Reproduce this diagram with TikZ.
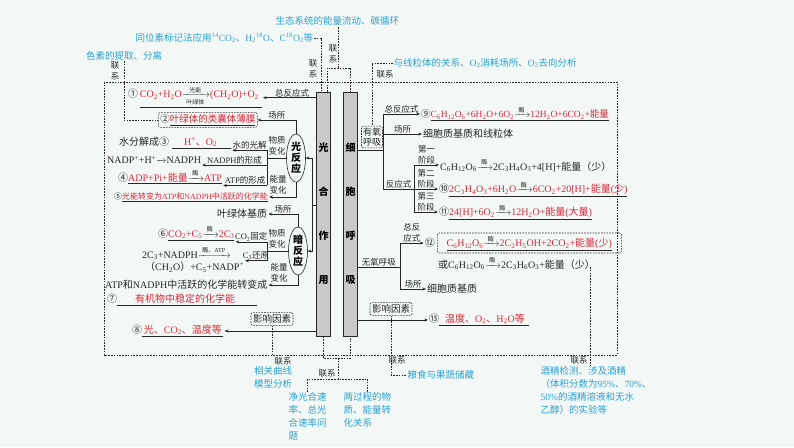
\documentclass[tikz,border=0pt]{standalone}
\usepackage{amsmath}
\usepackage{fontspec}
\setmainfont{Liberation Serif}
\newfontfamily\zhfont{Noto Sans CJK SC}
\usetikzlibrary{positioning,arrows.meta,shapes.geometric}
\definecolor{ink}{HTML}{262626}
\definecolor{ansred}{HTML}{D42A3A}
\definecolor{noteblue}{HTML}{2AA0CF}
\definecolor{colgray}{HTML}{C9C9C9}
\definecolor{paper}{HTML}{F3F8F7}
% switch to the CJK font for Chinese characters, back to the serif for the rest
\newXeTeXintercharclass\cjkcls
\newcommand\cjkrange[2]{%
  \count255=#1\relax
  \loop
    \XeTeXcharclass\count255=\cjkcls
  \ifnum\count255<#2\relax
    \advance\count255 by 1\relax
  \repeat}
\cjkrange{"2460}{"24FF}
\cjkrange{"3000}{"303F}
\cjkrange{"4E00}{"9FFF}
\cjkrange{"FF00}{"FFEF}
\XeTeXinterchartoks 0 \cjkcls = {\zhfont}
\XeTeXinterchartoks 4095 \cjkcls = {\zhfont}
\XeTeXinterchartoks \cjkcls 0 = {\rmfamily}
\XeTeXinterchartoks 4095 0 = {\rmfamily}
\XeTeXinterchartokenstate=1
\newcommand\dn[1]{\textsubscript{#1}}
\newcommand\tp[1]{\textsuperscript{#1}}
\newcommand\red[1]{\textcolor{ansred}{#1}}
\newcommand\lbl[1]{\text{\fontsize{6}{6}\selectfont\hspace{2pt}#1\hspace{2pt}}}
\newcommand\rxn[1]{\textcolor{ink}{$\xrightarrow{\lbl{#1}}$}}
\newcommand\rxnb[2]{\textcolor{ink}{$\xrightarrow[\lbl{#1}]{\lbl{#2}}$}}
\tikzset{
  txt/.style={inner sep=1pt, text=ink, font=\fontsize{10}{12}\selectfont},
  lab/.style={inner sep=0.5pt, text=ink, align=center,
              font=\fontsize{8.5}{10.5}\selectfont},
  note/.style={inner sep=0.5pt, text=noteblue, align=left,
               font=\fontsize{9.5}{12.8}\selectfont},
  tie/.style={inner sep=0.5pt, text=ink, align=center,
              font=\fontsize{8.5}{10.5}\selectfont},
  col/.style={draw=ink, fill=colgray, line width=0.6pt, minimum width=14pt,
              minimum height=244pt, inner sep=0pt, align=center,
              font=\bfseries\fontsize{10}{44}\selectfont},
  oval/.style={ellipse, draw=ink, fill=paper, line width=0.6pt,
               minimum width=19pt, minimum height=48pt, inner sep=0pt,
               align=center, font=\bfseries\fontsize{10}{11}\selectfont},
  dbox/.style={draw=ink, dash pattern=on 1.6pt off 1.2pt, rounded corners=2pt,
               line width=0.6pt, inner sep=2pt},
  link/.style={draw=ink, dash pattern=on 1.6pt off 1.2pt, line width=0.6pt},
  wire/.style={draw=ink, line width=0.6pt},
  flow/.style={wire, -{Stealth[length=3.6pt, width=3pt]}},
}

\begin{document}
\begin{tikzpicture}[x=1pt, y=-1pt]
  \fill[paper] (0,0) rectangle (794,447);
  \useasboundingbox (0,0) rectangle (794,447);

  % ---------------------------------------------------------- frame and columns
  \coordinate (fs) at (104,355);
  \draw[link] (104,82) rectangle (617,355);
  \node[col] (photo) at (323.5,214) {光\\合\\作\\用};
  \node[col] (resp) at (350.5,214) {细\\胞\\呼\\吸};

  % ---------------------------------------------------------- photosynthesis
  \node[txt, anchor=west] (eq1) at (127,97)
    {①\,\underline{\red{CO\dn2+H\dn2O}\rxnb{叶绿体}{光能}\red{(CH\dn2O)+O\dn2}\hspace{3pt}}};
  \node[lab] (tot1) at (292,93) {总反应式};
  \draw[flow] (photo.west |- tot1.south) -- (eq1.east |- tot1.south);

  \node[txt, dbox, anchor=west, font=\fontsize{9.5}{11}\selectfont] (site1)
    at (158,120) {②\underline{\red{叶绿体的类囊体薄膜}}};
  \node[txt, anchor=west] (wat) at (118,143)
    {水分解成③\hspace{3pt}\underline{\hspace{12pt}\red{H\tp{+}、O\dn2}\hspace{14pt}}};
  \node[txt, anchor=west] (nadph) at (106,160) {NADP\tp{+}+H\tp{+}\rxn{}NADPH};
  \node[txt, anchor=west] (atp) at (117,177)
    {④\underline{\red{ADP+Pi+能量}\rxn{酶}\red{ATP}}};
  \node[txt, anchor=west, font=\fontsize{8}{10}\selectfont] (en) at (113,197)
    {⑤\underline{\red{光能转变为ATP和NADPH中活跃的化学能}}};

  \node[oval] (lr) at (296,158) {光\\反\\应};
  \coordinate (lrB) at (267,158);
  \node[lab] (lrMat) at (277,146) {物质\\变化};
  \node[lab] (lrEn) at (278,185) {能量\\变化};
  \draw[flow] (lr.north) |- node[pos=0.75, above, lab] {场所} (site1.east);
  \draw[wire] (lr.west) -- (lrB);
  \draw[wire] (lrB |- wat.south east) -- (lrB |- atp.south east);
  \draw[flow] (lrB |- wat.south east) -- node[above, lab] {水的光解} (wat.south east);
  \draw[flow] (lrB |- nadph.south east) -- node[above, lab] {NADPH的形成} (nadph.south east);
  \draw[flow] (lrB |- atp.south east) -- node[above, lab] {ATP的形成} (atp.south east);
  \draw[flow] (lr.south) |- (en.east);

  \node[txt, anchor=west] (stroma) at (216,214) {叶绿体基质};
  \node[txt, anchor=west] (fix) at (157,233)
    {⑥\underline{\red{CO\dn2+C\dn5\rxn{酶}2C\dn3}}};
  \node[txt, anchor=west] (red1) at (141,253) {2C\dn3+NADPH\rxn{酶、ATP}};
  \node[txt, anchor=west] (red2) at (144,267) {（CH\dn2O）+C\dn5+NADP\tp{+}};
  \node[txt, anchor=west] (conv) at (104,285) {ATP和NADPH中活跃的化学能转变成};
  \node[txt, anchor=west] (c7) at (106,300)
    {⑦\underline{\hspace{18pt}\red{有机物中稳定的化学能}\hspace{22pt}}};
  \node[txt, dbox, font=\fontsize{9.5}{11}\selectfont] (inf1) at (272,319) {影响因素};
  \node[txt, anchor=west] (c8) at (131,331)
    {⑧\underline{\,\red{光、CO\dn2、温度等}\,}};

  \node[oval] (dr) at (298,251) {暗\\反\\应};
  \coordinate (drB) at (267,251);
  \node[lab] (drMat) at (277,239) {物质\\变化};
  \node[lab] (drEn) at (279,273) {能量\\变化};
  \draw[flow] (dr.north) |- node[pos=0.75, above, lab] {场所} (stroma.east);
  \draw[wire] (dr.west) -- (drB);
  \draw[wire] (drB |- fix.south east) -- (drB |- red2.north east);
  \draw[flow] (drB |- fix.south east) -- node[above, lab] {CO\dn2固定} (fix.south east);
  \draw[flow] (drB |- red2.north east) -- node[above, lab] {C\dn3还原} (red2.north east);
  \draw[flow] (dr.south) |- (conv.east);

  \coordinate (pb) at (312,205);
  \draw[wire] (photo.west |- pb) -- (pb);
  \draw[flow] (pb) |- (lr.east);
  \draw[flow] (pb) |- (dr.east);
  \draw[flow] (photo.west |- c8.east) -- (c8.east);

  % ---------------------------------------------------------- respiration
  \node[txt, dbox, align=center, inner sep=1.5pt, font=\fontsize{9}{10.5}\selectfont]
    (aer) at (372,137) {有氧\\呼吸};
  \coordinate (ab) at (383,150);
  \coordinate (sb) at (414,189);
  \node[txt, anchor=west, font=\fontsize{9.5}{11}\selectfont] (c9) at (420,114)
    {⑨\underline{\red{C\dn6H\dn{12}O\dn6+6H\dn2O+6O\dn2}\rxn{酶}\red{12H\dn2O+6CO\dn2+能量}}};
  \node[txt, anchor=west] (site2) at (422,134) {细胞质基质和线粒体};
  \node[txt, anchor=west] (s1) at (439,165)
    {C\dn6H\dn{12}O\dn6\rxn{酶}2C\dn3H\dn4O\dn3+4[H]+能量（少）};
  \node[txt, anchor=west] (s2) at (438,189)
    {⑩\underline{\red{2C\dn3H\dn4O\dn3+6H\dn2O\rxn{酶}6CO\dn2+20[H]+能量(少)}}};
  \node[txt, anchor=west] (s3) at (438,212)
    {⑪\underline{\red{24[H]+6O\dn2\rxn{酶}12H\dn2O+能量(大量)}}};

  \draw[wire] (resp.east |- ab) -- (ab);
  \draw[wire] (ab |- c9.west) -- (ab |- sb);
  \draw[flow] (ab |- c9.west) -- node[above, lab] {总反应式} (c9.west);
  \draw[flow] (ab |- site2.west) -- node[above, lab] {场所} (site2.west);
  \draw[wire] (ab |- sb) -- node[above, lab] {反应式} (sb);
  \draw[wire] (sb |- s1.west) -- (sb |- s3.west);
  \draw[flow] (sb |- s1.west) -- node[above, lab] {第一\\阶段} (s1.west);
  \draw[flow] (sb |- s2.west) -- node[above, lab] {第二\\阶段} (s2.west);
  \draw[flow] (sb |- s3.west) -- node[above, lab] {第三\\阶段} (s3.west);

  \coordinate (nb) at (400,267);
  \node[txt, dbox, anchor=west, minimum width=184pt, minimum height=20pt] (alc1)
    at (437,243)
    {\underline{\red{C\dn6H\dn{12}O\dn6}\rxn{酶}\red{2C\dn2H\dn5OH+2CO\dn2+能量(少)}}};
  \node[txt, left=1pt of alc1] (c12) {⑫};
  \node[txt, anchor=west] (lac) at (437,263)
    {或C\dn6H\dn{12}O\dn6\rxn{酶}2C\dn3H\dn6O\dn3+能量（少）};
  \node[txt, anchor=west] (site3) at (426,289) {细胞质基质};
  \node[txt, dbox, font=\fontsize{9.5}{11}\selectfont] (inf2) at (391,309) {影响因素};
  \node[txt, anchor=west] (c13) at (428,320)
    {⑬\underline{\hspace{6pt}\red{温度、O\dn2、H\dn2O等}\hspace{4pt}}};

  \draw[wire] (resp.east |- nb) -- node[above, lab] {无氧呼吸} (nb);
  \draw[wire] (nb |- c12.west) -- (nb |- site3.west);
  \draw[flow] (nb |- c12.west) -- node[above, lab] {总反\\应式} (c12.west);
  \draw[flow] (nb |- site3.west) -- node[above, lab] {场所} (site3.west);
  \draw[flow] (resp.east |- c13.west) -- (c13.west);

  % ---------------------------------------------------------- links to other topics
  \node[note, anchor=west] (eco) at (275,21) {生态系统的能量流动、碳循环};
  \node[note, anchor=west] (iso) at (135,38)
    {同位素标记法应用\tp{14}CO\dn2、H\dn2\tp{18}O、C\tp{18}O\dn2等};
  \node[note, anchor=south] (pig) at (124,61) {色素的提取、分离};
  \node[note, anchor=west] (mito) at (393,63)
    {与线粒体的关系、O\dn2消耗场所、O\dn2去向分析};
  \node[note, anchor=north] (curve) at (273,366) {相关曲线\\模型分析};
  \node[note, anchor=north west] (rate) at (288,392) {净光合速\\率、总光\\合速率问\\题};
  \node[note, anchor=north west] (rel) at (343,392) {两过程的物\\质、能量转\\化关系};
  \node[note, anchor=west] (store) at (407,375) {粮食与果蔬储藏};
  \node[note, anchor=north west] (alc) at (540,366)
    {酒精检测、涉及酒精\\（体积分数为95\%、70\%、\\50\%的酒精溶液和无水\\乙醇）的实验等};

  \node[tie] (tieA) at (115,71) {联\\系};
  \node[tie] (tieB) at (313,69) {联\\系};
  \node[tie] (tieC) at (333,54) {联\\系};
  \node[tie] (tieD) at (385,74) {联系};
  \node[tie] (tieE) at (283,361) {联系};
  \node[tie] (tieF) at (327,373) {联系};
  \node[tie] (tieG) at (397,360) {联系};
  \node[tie] (tieH) at (579,360) {联系};

  \coordinate (ecoJ) at (338,68);
  \coordinate (botJ) at (338,358);
  \coordinate (botK) at (338,379);
  \coordinate (alcJ) at (590,267);
  \draw[link] (pig.south) |- (site1.west);
  \draw[link] (iso.east) -| ([xshift=-2.5pt]photo.north);
  \draw[link] ([xshift=3.5pt]photo.north) |- (ecoJ) -| (resp.north);
  \draw[link] (ecoJ) -- (ecoJ |- eco.south);
  \draw[link] (mito.west) -| (aer.north);
  \draw[link] (inf1.south) -- (inf1.south |- fs);
  \draw[link] (photo.south) |- (botJ) -| (resp.south);
  \draw[link] (botJ) -- (botK);
  \draw[link] (rate.north) |- (botK) -| (rel.north);
  \draw[link] (inf2.south) |- (store.west);
  \draw[link] (alcJ) -- (alcJ |- alc.north);
\end{tikzpicture}
\end{document}
